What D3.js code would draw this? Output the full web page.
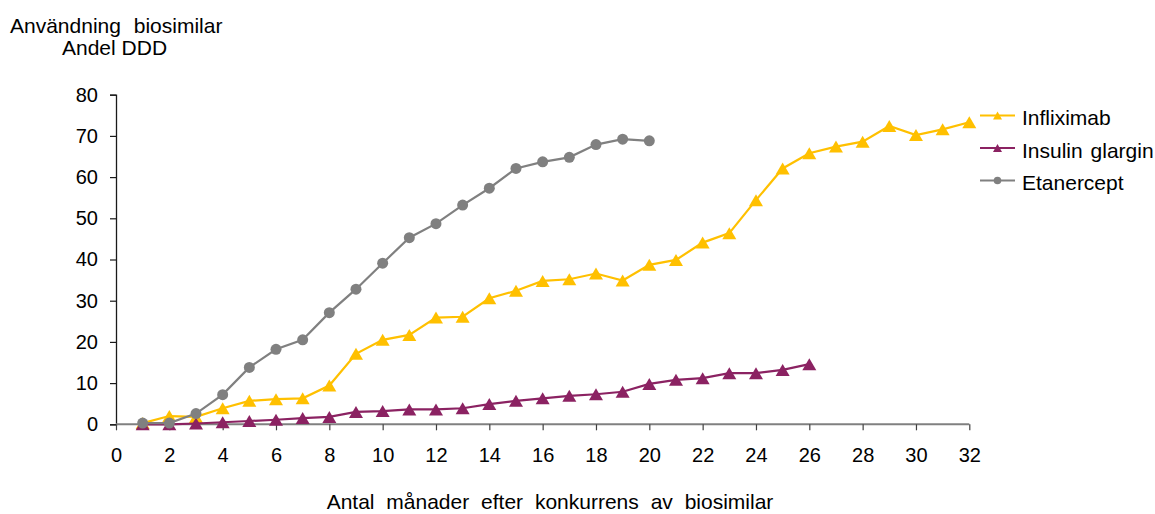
<!DOCTYPE html>
<html>
<head>
<meta charset="utf-8">
<script src="https://cdn.jsdelivr.net/npm/d3@7"></script>
<style>
  html, body { margin: 0; padding: 0; background: #fff; }
  svg text { font-family: "Liberation Sans", Arial, sans-serif; fill: #000; }
</style>
</head>
<body>
<svg id="chart" width="1155" height="514"></svg>
<script>
// Share of DDD (%) for biosimilars, by month after competition started
const xTicks = d3.range(0, 33, 2);
const yTicks = d3.range(0, 81, 10);

const infliximab = [0.3, 2.0, 1.8, 3.9, 5.7, 6.1, 6.3, 9.4, 17.1, 20.5, 21.7, 25.9, 26.1, 30.6, 32.4, 34.8,
  35.2, 36.6, 34.9, 38.7, 39.9, 44.1, 46.4, 54.4, 62.1, 65.8, 67.4, 68.6, 72.4, 70.2, 71.6, 73.3];
const insulinGlargin = [0, 0, 0.2, 0.5, 0.8, 1.1, 1.5, 1.8, 3.0, 3.2, 3.6, 3.6, 3.9, 4.9, 5.7, 6.3,
  6.9, 7.3, 7.9, 9.8, 10.8, 11.2, 12.4, 12.4, 13.2, 14.6];
const etanercept = [0.3, 0.3, 2.6, 7.2, 13.8, 18.2, 20.5, 27.1, 32.8, 39.1, 45.3, 48.7, 53.2, 57.3, 62.1, 63.7,
  64.8, 67.9, 69.2, 68.8];

const seriesNames = ["Infliximab", "Insulin glargin", "Etanercept"];
const seriesValues = [infliximab, insulinGlargin, etanercept];
const seriesColors = ["#FFC000", "#8B2262", "#808080"];
const seriesMarkers = ["triangle", "triangle", "circle"];

const svg = d3.select("#chart");

const x = d3.scaleLinear().domain([0, 32]).range([116, 969.3]);
const y = d3.scaleLinear().domain([0, 80]).range([424.3, 94.7]);

// Marker shapes
function triPath(w, h) {
  return `M0,${-h / 2}L${w / 2},${h / 2}L${-w / 2},${h / 2}Z`;
}

// Y axis
const yAxis = svg.append("g").attr("transform", `translate(${x(0)},0)`)
  .call(d3.axisLeft(y).tickValues(yTicks).tickSize(6).tickPadding(12));
yAxis.select(".domain").attr("stroke", "#1a1a1a").attr("stroke-width", 1.3);
yAxis.selectAll(".tick line").attr("stroke", "#1a1a1a").attr("stroke-width", 1.2);
yAxis.selectAll(".tick text").style("font-size", "20px")
  .attr("font-family", "Liberation Sans, Arial, sans-serif");

// X axis
const xAxis = svg.append("g").attr("transform", `translate(0,${y(0)})`)
  .call(d3.axisBottom(x).tickValues(xTicks).tickSize(6).tickPadding(18));
xAxis.select(".domain").attr("stroke", "#808080").attr("stroke-width", 2)
  .attr("d", `M${x(0)},0H${x(32)}`);
xAxis.selectAll(".tick line").attr("stroke", "#404040").attr("stroke-width", 1.2);
xAxis.selectAll(".tick text").style("font-size", "20px")
  .attr("font-family", "Liberation Sans, Arial, sans-serif");

// Series lines and markers
seriesValues.forEach((vals, i) => {
  const pts = vals.map((v, j) => ({ m: j + 1, v }));
  const line = d3.line().x(d => x(d.m)).y(d => y(d.v));
  svg.append("path").datum(pts)
    .attr("d", line)
    .attr("fill", "none")
    .attr("stroke", seriesColors[i])
    .attr("stroke-width", 2.2);
  const g = svg.append("g");
  if (seriesMarkers[i] === "triangle") {
    g.selectAll("path").data(pts).join("path")
      .attr("transform", d => `translate(${x(d.m)},${y(d.v)})`)
      .attr("d", triPath(14, 12))
      .attr("fill", seriesColors[i]);
  } else {
    g.selectAll("circle").data(pts).join("circle")
      .attr("cx", d => x(d.m)).attr("cy", d => y(d.v))
      .attr("r", 5.5)
      .attr("fill", seriesColors[i]);
  }
});

// Legend
const legend = svg.append("g");
seriesNames.forEach((name, i) => {
  const ly = 115.5 + i * 32.5;
  legend.append("line")
    .attr("x1", 980).attr("x2", 1015).attr("y1", ly).attr("y2", ly)
    .attr("stroke", seriesColors[i]).attr("stroke-width", 2.2);
  if (seriesMarkers[i] === "triangle") {
    legend.append("path").attr("transform", `translate(997.5,${ly})`)
      .attr("d", triPath(9, 8)).attr("fill", seriesColors[i]);
  } else {
    legend.append("circle").attr("cx", 997.5).attr("cy", ly).attr("r", 3.8)
      .attr("fill", seriesColors[i]);
  }
  legend.append("text").attr("x", 1022).attr("y", ly + 9.5)
    .style("font-size", "21px").style("word-spacing", "2px").text(name);
});

// Titles
svg.append("text").attr("x", 10).attr("y", 33).style("font-size", "21px")
  .style("word-spacing", "7px").text("Användning biosimilar");
svg.append("text").attr("x", 62).attr("y", 55).style("font-size", "21px")
  .text("Andel DDD");
svg.append("text").attr("x", 550).attr("y", 509).attr("text-anchor", "middle")
  .style("font-size", "21px").style("word-spacing", "6px")
  .text("Antal månader efter konkurrens av biosimilar");
</script>
</body>
</html>
